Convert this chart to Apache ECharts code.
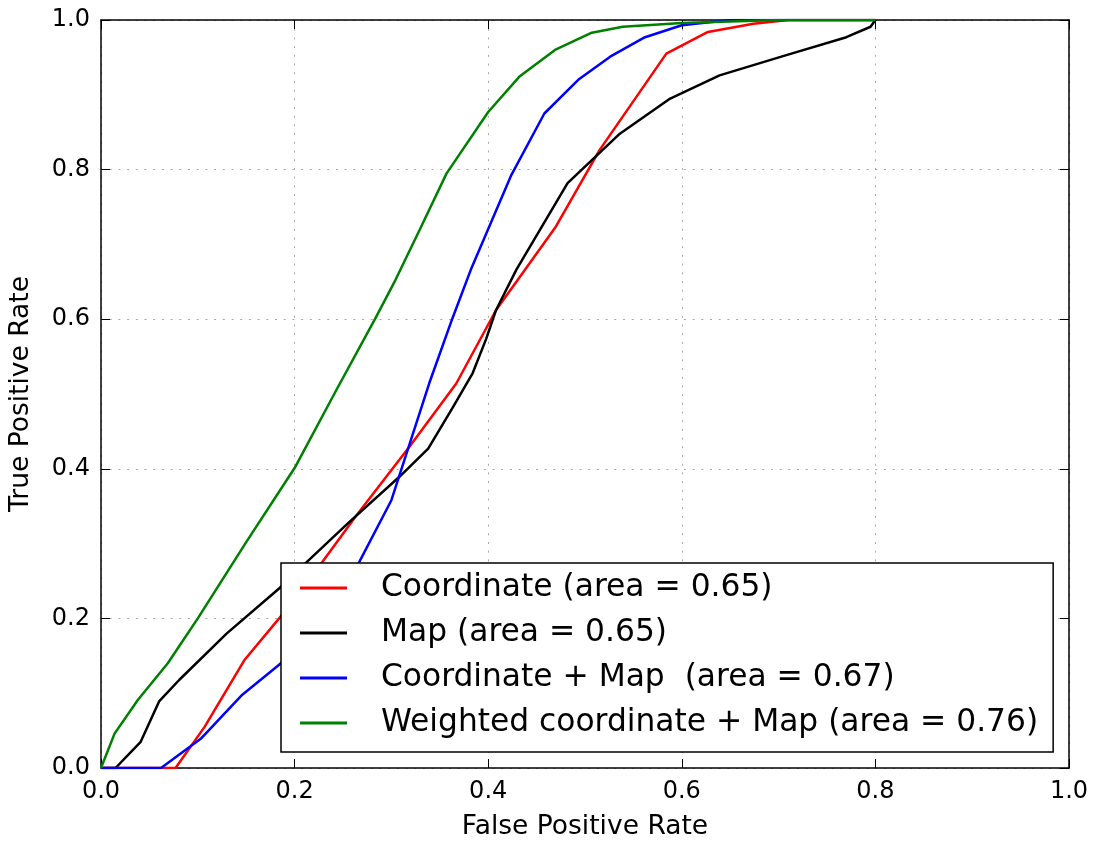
<!DOCTYPE html>
<html lang="en">
<head>
<meta charset="UTF-8">
<title>ROC curves</title>
<script src="https://cdn.jsdelivr.net/npm/echarts@6/dist/echarts.min.js"></script>
<style>
  html, body { margin: 0; padding: 0; background: #fff; }
  #chart { width: 1093px; height: 845px; }
</style>
</head>
<body>
<div id="chart"></div>
<script>
// ROC points [false positive rate, true positive rate]
const coordinate = [
  [0, 0], [0.077, 0], [0.107, 0.055], [0.148, 0.144], [0.184, 0.2], [0.229, 0.276],
  [0.264, 0.338], [0.319, 0.43], [0.367, 0.514], [0.408, 0.612], [0.438, 0.666],
  [0.47, 0.724], [0.515, 0.826], [0.584, 0.955], [0.627, 0.984], [0.674, 0.995],
  [0.71, 1], [0.8, 1]
];
const mapOnly = [
  [0, 0], [0.015, 0], [0.041, 0.035], [0.06, 0.089], [0.081, 0.118], [0.13, 0.18],
  [0.184, 0.24], [0.213, 0.276], [0.255, 0.327], [0.308, 0.389], [0.338, 0.427],
  [0.363, 0.481], [0.384, 0.528], [0.398, 0.574], [0.408, 0.612], [0.429, 0.666],
  [0.482, 0.782], [0.536, 0.848], [0.588, 0.895], [0.639, 0.926], [0.708, 0.953],
  [0.77, 0.977], [0.795, 0.991], [0.8, 1]
];
const coordMap = [
  [0, 0], [0.062, 0], [0.103, 0.039], [0.146, 0.098], [0.184, 0.138], [0.23, 0.2],
  [0.267, 0.276], [0.3, 0.358], [0.319, 0.434], [0.339, 0.514], [0.363, 0.601],
  [0.382, 0.666], [0.424, 0.793], [0.458, 0.875], [0.493, 0.92], [0.526, 0.951],
  [0.562, 0.977], [0.6, 0.993], [0.65, 1], [0.8, 1]
];
const weighted = [
  [0, 0], [0.014, 0.046], [0.038, 0.091], [0.069, 0.14], [0.1, 0.2], [0.15, 0.302],
  [0.2, 0.401], [0.243, 0.505], [0.283, 0.6], [0.304, 0.652], [0.329, 0.719],
  [0.357, 0.795], [0.4, 0.877], [0.432, 0.924], [0.469, 0.96], [0.507, 0.983],
  [0.539, 0.991], [0.6, 0.996], [0.7, 1], [0.8, 1]
];
const seriesNames = [
  'Coordinate (area = 0.65)',
  'Map (area = 0.65)',
  'Coordinate + Map  (area = 0.67)',
  'Weighted coordinate + Map (area = 0.76)'
];
const seriesColors = ['#ff0000', '#000000', '#0000ff', '#008000'];
const tickValues = [0, 0.2, 0.4, 0.6, 0.8, 1.0];

const font = '"DejaVu Sans", sans-serif';
const allData = [coordinate, mapOnly, coordMap, weighted];

function axis(pos, showLabel, name) {
  return {
    type: 'value',
    position: pos,
    min: tickValues[0],
    max: tickValues[tickValues.length - 1],
    interval: 0.2,
    name: name,
    nameLocation: 'middle',
    nameGap: pos === 'bottom' ? 46 : 66,
    nameTextStyle: { fontFamily: font, fontSize: 26.5, color: '#000' },
    axisLine: { show: true, onZero: false, lineStyle: { color: '#000', width: 1.5 } },
    axisTick: { show: true, inside: true, length: 9, lineStyle: { color: '#000', width: 1 } },
    axisLabel: {
      show: showLabel,
      fontFamily: font, fontSize: 24, color: '#000',
      margin: pos === 'bottom' ? 12 : 11,
      formatter: v => v.toFixed(1),
      showMinLabel: true, showMaxLabel: true
    },
    splitLine: {
      show: showLabel,
      lineStyle: { color: '#a8a8a8', width: 1, type: [2, 6.7] }
    }
  };
}

const chart = echarts.init(document.getElementById('chart'));
chart.setOption({
  animation: false,
  backgroundColor: '#fff',
  grid: { left: 101, right: 24, top: 20, bottom: 77, outerBoundsMode: 'none', containLabel: false },
  xAxis: [axis('bottom', true, 'False Positive Rate'), axis('top', false)],
  yAxis: [axis('left', true, 'True Positive Rate'), axis('right', false)],
  legend: {
    orient: 'vertical',
    left: 281,
    top: 563,
    padding: [7, 15, 11, 19],
    itemWidth: 47,
    itemHeight: 3,
    itemGap: 9,
    icon: 'rect',
    backgroundColor: '#fff',
    borderColor: '#000',
    borderWidth: 1.5,
    borderRadius: 0,
    textStyle: {
      fontFamily: font, fontSize: 31.3, color: '#000',
      lineHeight: 36, padding: [0, 0, 0, 29]
    },
    data: seriesNames
  },
  series: allData.map((d, i) => ({
    name: seriesNames[i],
    type: 'line',
    data: d,
    showSymbol: false,
    symbol: 'none',
    color: seriesColors[i],
    lineStyle: { color: seriesColors[i], width: 2.5 },
    z: 3
  }))
});
</script>
</body>
</html>
